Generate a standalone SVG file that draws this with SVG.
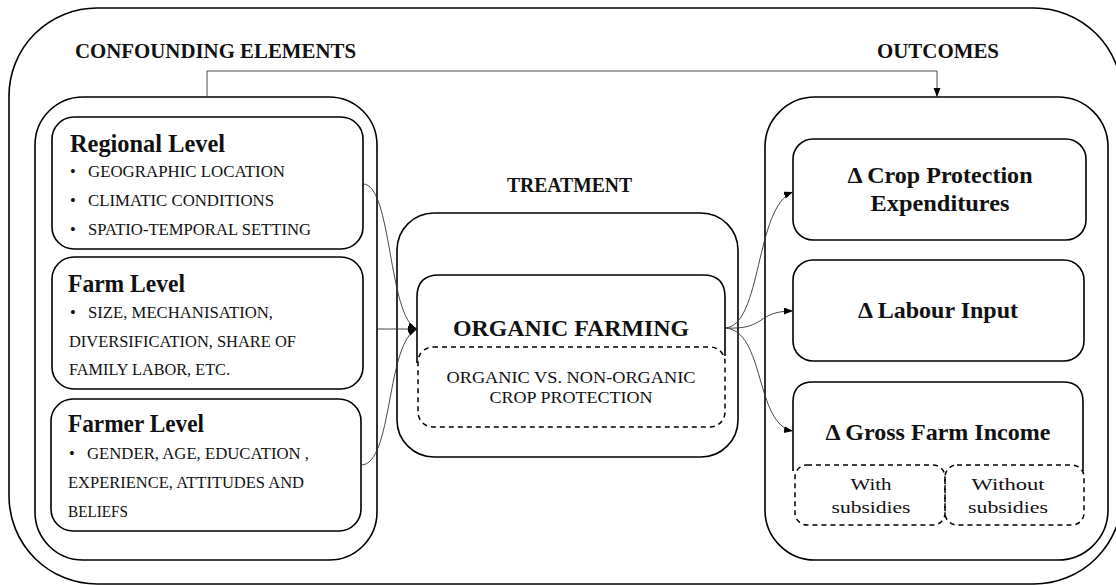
<svg xmlns="http://www.w3.org/2000/svg" width="1116" height="585" viewBox="0 0 1116 585">
<style>
.box{fill:none;stroke:#000;stroke-width:1.6}
.dash{fill:none;stroke:#000;stroke-width:1.5;stroke-dasharray:5 4}
.con{fill:none;stroke:#333;stroke-width:0.9}
.t{font-family:"Liberation Serif","Times New Roman",serif;fill:#111}
.h{font-size:20px;font-weight:bold}
.lv{font-size:25px;font-weight:bold}
.b{font-size:16.5px}
.o{font-size:23px;font-weight:bold}
.s{font-size:17px}
</style>
<defs>
<marker id="ah" markerWidth="10" markerHeight="8" refX="9" refY="3.5" orient="auto" markerUnits="userSpaceOnUse">
<path d="M0,0 L9,3.5 L0,7 z" fill="#000"/>
</marker>
</defs>
<rect x="0" y="0" width="1116" height="585" fill="#fff"/>
<g id="frame">
<rect class="box" x="9" y="8" width="1113" height="576" rx="88"/>
<text class="t h" x="75" y="58" textLength="281" lengthAdjust="spacingAndGlyphs">CONFOUNDING ELEMENTS</text>
<text class="t h" x="877" y="58" textLength="122" lengthAdjust="spacingAndGlyphs">OUTCOMES</text>
<text class="t h" x="507" y="192" textLength="125" lengthAdjust="spacingAndGlyphs">TREATMENT</text>
</g>
<g id="confounding">
<rect class="box" x="35" y="97" width="342" height="463" rx="48"/>
</g>
<g id="regional">
<rect class="box" x="52" y="117" width="311" height="132" rx="22"/>
<text class="t lv" x="70" y="152" textLength="155" lengthAdjust="spacingAndGlyphs">Regional Level</text>
<text class="t b" x="70" y="177">•</text>
<text class="t b" x="88" y="177" textLength="197" lengthAdjust="spacingAndGlyphs">GEOGRAPHIC LOCATION</text>
<text class="t b" x="70" y="206">•</text>
<text class="t b" x="88" y="206" textLength="186" lengthAdjust="spacingAndGlyphs">CLIMATIC CONDITIONS</text>
<text class="t b" x="70" y="235">•</text>
<text class="t b" x="88" y="235" textLength="223" lengthAdjust="spacingAndGlyphs">SPATIO-TEMPORAL SETTING</text>
</g>
<g id="farm">
<rect class="box" x="52" y="257" width="311" height="132" rx="22"/>
<text class="t lv" x="68" y="292" textLength="117" lengthAdjust="spacingAndGlyphs">Farm Level</text>
<text class="t b" x="70" y="318">•</text>
<text class="t b" x="88" y="318" textLength="185" lengthAdjust="spacingAndGlyphs">SIZE, MECHANISATION,</text>
<text class="t b" x="69" y="347" textLength="227" lengthAdjust="spacingAndGlyphs">DIVERSIFICATION, SHARE OF</text>
<text class="t b" x="69" y="375" textLength="161" lengthAdjust="spacingAndGlyphs">FAMILY LABOR, ETC.</text>
</g>
<g id="farmer">
<rect class="box" x="51" y="399" width="310" height="132" rx="22"/>
<text class="t lv" x="68" y="432" textLength="136" lengthAdjust="spacingAndGlyphs">Farmer Level</text>
<text class="t b" x="69" y="459">•</text>
<text class="t b" x="87" y="459" textLength="222" lengthAdjust="spacingAndGlyphs">GENDER, AGE, EDUCATION ,</text>
<text class="t b" x="68" y="488" textLength="236" lengthAdjust="spacingAndGlyphs">EXPERIENCE, ATTITUDES AND</text>
<text class="t b" x="68" y="517" textLength="60" lengthAdjust="spacingAndGlyphs">BELIEFS</text>
</g>
<g id="treatment">
<rect class="box" x="397" y="213" width="341" height="244" rx="37"/>
</g>
<g id="organic">
<path class="box" d="M417,363 V297 Q417,275 439,275 H703 Q725,275 725,297 V356"/>
<text class="t o" x="571" y="336" text-anchor="middle" textLength="236" lengthAdjust="spacingAndGlyphs">ORGANIC FARMING</text>
</g>
<g id="organic-vs">
<rect class="dash" x="418" y="347" width="307" height="80" rx="15"/>
<text class="t b" x="571" y="383" text-anchor="middle" textLength="249" lengthAdjust="spacingAndGlyphs">ORGANIC VS. NON-ORGANIC</text>
<text class="t b" x="571" y="403" text-anchor="middle" textLength="163" lengthAdjust="spacingAndGlyphs">CROP PROTECTION</text>
</g>
<g id="outcomes">
<rect class="box" x="765" y="97" width="343" height="463" rx="50"/>
</g>
<g id="crop">
<rect class="box" x="793" y="139" width="293" height="101" rx="20"/>
<text class="t o" x="940" y="183" text-anchor="middle" textLength="185" lengthAdjust="spacingAndGlyphs">Δ Crop Protection</text>
<text class="t o" x="940" y="211" text-anchor="middle" textLength="139" lengthAdjust="spacingAndGlyphs">Expenditures</text>
</g>
<g id="labour">
<rect class="box" x="793" y="260" width="291" height="101" rx="20"/>
<text class="t o" x="938" y="318" text-anchor="middle" textLength="160" lengthAdjust="spacingAndGlyphs">Δ Labour Input</text>
</g>
<g id="gross">
<path class="box" d="M793,471 V402 Q793,382 813,382 H1063 Q1083,382 1083,402 V471"/>
<text class="t o" x="938" y="440" text-anchor="middle" textLength="225" lengthAdjust="spacingAndGlyphs">Δ Gross Farm Income</text>
</g>
<g id="with-subsidies">
<rect class="dash" x="795" y="465" width="150" height="60" rx="12"/>
<text class="t s" x="871" y="490" text-anchor="middle" textLength="41" lengthAdjust="spacingAndGlyphs">With</text>
<text class="t s" x="871" y="513" text-anchor="middle" textLength="79" lengthAdjust="spacingAndGlyphs">subsidies</text>
</g>
<g id="without-subsidies">
<rect class="dash" x="945" y="465" width="139" height="60" rx="12"/>
<text class="t s" x="1008" y="490" text-anchor="middle" textLength="73" lengthAdjust="spacingAndGlyphs">Without</text>
<text class="t s" x="1008" y="513" text-anchor="middle" textLength="80" lengthAdjust="spacingAndGlyphs">subsidies</text>
</g>
<g id="connectors">
<path class="con" d="M207,97 V71 H937 V97" marker-end="url(#ah)"/>
<path class="con" d="M377,329 H417" marker-end="url(#ah)"/>
<path class="con" d="M363,184 C392,184 388,318 417,329" marker-end="url(#ah)"/>
<path class="con" d="M361,465 C393,465 386,342 417,329" marker-end="url(#ah)"/>
<path class="con" d="M725,328 C762,326 755,206 793,192" marker-end="url(#ah)"/>
<path class="con" d="M725,328 C768,330 755,311 793,311" marker-end="url(#ah)"/>
<path class="con" d="M725,328 C765,330 755,425 793,431" marker-end="url(#ah)"/>
</g>
</svg>
